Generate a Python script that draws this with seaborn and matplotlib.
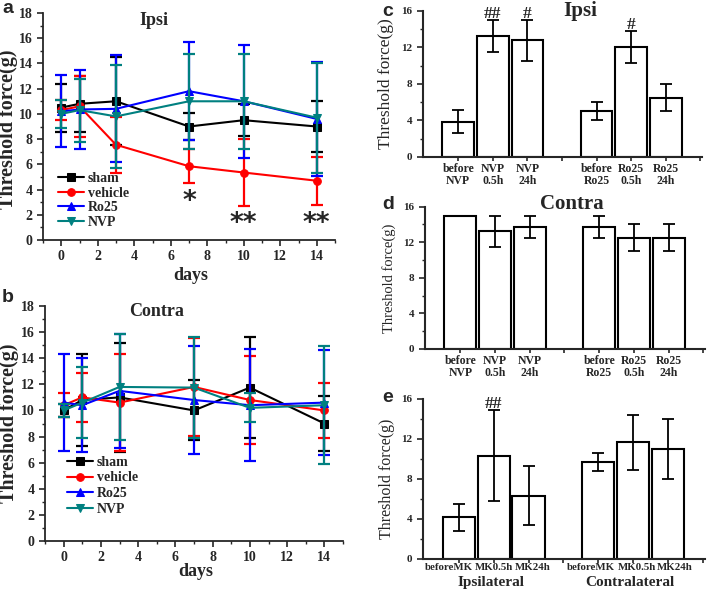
import numpy as np
import pandas as pd
import matplotlib
matplotlib.use("Agg")
import matplotlib.pyplot as plt
from matplotlib.ticker import MultipleLocator
import seaborn as sns

# ---------------- data ----------------
days = [0, 1, 3, 7, 10, 14]
groups = ["sham", "vehicle", "Ro25", "NVP"]

ipsi_sham = [10.5, 10.8, 11.0, 9.0, 9.5, 9.0]
ipsi_sham_err = [1.9, 2.2, 3.5, 1.1, 1.25, 2.05]
ipsi_vehicle = [10.3, 10.6, 7.55, 5.85, 5.35, 4.7]
ipsi_vehicle_err = [0.8, 2.4, 2.2, 1.35, 2.65, 1.9]
ipsi_ro25 = [10.2, 10.35, 10.4, 11.8, 11.0, 9.6]
ipsi_ro25_err = [2.85, 3.15, 4.25, 3.9, 4.5, 4.5]
ipsi_nvp = [10.0, 10.3, 9.8, 11.0, 11.0, 9.7]
ipsi_nvp_err = [1.1, 2.5, 4.1, 3.75, 3.75, 4.35]

contra_sham = [10.0, 10.8, 11.0, 10.0, 11.75, 9.0]
contra_sham_err = [0.5, 3.5, 4.2, 2.3, 3.85, 2.1]
contra_vehicle = [10.4, 11.0, 10.6, 11.8, 10.8, 10.0]
contra_vehicle_err = [0.9, 1.9, 3.7, 3.75, 3.35, 2.1]
contra_ro25 = [10.6, 10.4, 11.5, 10.8, 10.4, 10.6]
contra_ro25_err = [3.7, 3.6, 4.35, 4.1, 4.3, 4.0]
contra_nvp = [10.0, 10.6, 11.8, 11.75, 10.2, 10.4]
contra_nvp_err = [0.5, 2.7, 4.05, 3.85, 1.1, 4.5]

sig_days = [7, 10, 14]
sig_marks = ["*", "**", "**"]
sig_y = [3.0, 1.3, 1.3]

bar_labels_cd = ["before\nNVP", "NVP\n0.5h", "NVP\n24h", "before\nRo25", "Ro25\n0.5h", "Ro25\n24h"]
c_vals = [3.85, 13.25, 12.75, 5.0, 12.0, 6.5]
c_err = [1.25, 1.75, 2.25, 1.0, 1.75, 1.5]
c_marks = ["", "##", "#", "", "#", ""]

d_vals = [15.0, 13.25, 13.75, 13.75, 12.5, 12.5]
d_err = [0.0, 1.75, 1.25, 1.25, 1.5, 1.5]

bar_labels_e = ["beforeMK", "MK0.5h", "MK24h", "beforeMK", "MK0.5h", "MK24h"]
e_vals = [4.2, 10.35, 6.35, 9.7, 11.7, 11.0]
e_err = [1.35, 4.55, 2.95, 0.9, 2.75, 3.0]
e_marks = ["", "##", "", "", "", ""]
e_groups = ["Ipsilateral", "Contralateral"]

# ---------------- style ----------------
sns.set_style("ticks")
plt.rcParams["font.family"] = ["Liberation Serif", "DejaVu Serif"]
plt.rcParams["font.weight"] = "bold"
plt.rcParams["axes.linewidth"] = 1.3

colors = {"sham": "black", "vehicle": "#ff0000", "Ro25": "#0000ff", "NVP": "#008080"}
markers = {"sham": "s", "vehicle": "o", "Ro25": "^", "NVP": "v"}

fig = plt.figure(figsize=(7.08, 5.90), dpi=100)
W, H = 708, 590
POS = [0, 1, 2, 4, 5, 6]


def axes_px(left, top, right, bottom):
    return fig.add_axes([left / W, 1 - bottom / H, (right - left) / W, (bottom - top) / H])


def style_axes(ax, lw=1.3):
    sns.despine(ax=ax)
    ax.spines["left"].set_linewidth(lw)
    ax.spines["bottom"].set_linewidth(lw)
    ax.tick_params(which="major", direction="out", length=4, width=1.2)
    ax.tick_params(which="minor", direction="out", length=2.2, width=1.0)


def line_panel(ax, series, title, title_pos, leg_anchor, spacing):
    for name in groups:
        vals, err = series[name]
        c = colors[name]
        ax.errorbar(days, vals, yerr=err, fmt="none", ecolor=c, elinewidth=1.6,
                    capsize=4, capthick=1.6)
        sns.lineplot(x=days, y=vals, color=c, marker=markers[name], markersize=5.5,
                     markeredgecolor=c, linewidth=1.5, label=name, ax=ax, errorbar=None)
    ax.set_xlim(-1, 15)
    ax.set_ylim(0, 18)
    ax.xaxis.set_major_locator(MultipleLocator(2))
    ax.xaxis.set_minor_locator(MultipleLocator(1))
    ax.yaxis.set_major_locator(MultipleLocator(2))
    ax.yaxis.set_minor_locator(MultipleLocator(1))
    style_axes(ax)
    for lab in ax.get_xticklabels() + ax.get_yticklabels():
        lab.set_fontsize(10)
        lab.set_fontweight("bold")
    ax.set_xlabel("days", fontsize=13, fontweight="bold")
    ax.set_ylabel("Threshold force(g)", fontsize=14.5, fontweight="bold")
    ax.text(title_pos[0], title_pos[1], title, transform=ax.transAxes, ha="center",
            va="center", fontsize=13, fontweight="bold")
    ax.legend(loc="center left", bbox_to_anchor=leg_anchor, frameon=False,
              borderaxespad=0, borderpad=0, handlelength=1.9, handletextpad=0.25,
              labelspacing=spacing, prop={"size": 10, "weight": "bold"})


def bar_panel(ax, labels, vals, err, marks=None, title=None, title_pos=None,
              ylabel_size=12, xlab_size=8.5):
    df = pd.DataFrame({"pos": POS, "val": vals})
    sns.barplot(data=df, x="pos", y="val", native_scale=True, color="white",
                saturation=1, edgecolor="black", linewidth=1.5, width=0.92,
                errorbar=None, ax=ax)
    p = np.array(POS)
    v = np.array(vals)
    e = np.array(err)
    m = e > 0
    ax.errorbar(p[m], v[m], yerr=e[m], fmt="none", ecolor="black", elinewidth=1.3,
                capsize=4.5, capthick=1.3)
    if marks is not None:
        for x, y, er, t in zip(POS, vals, err, marks):
            if t:
                ax.text(x, y + er + 0.2, t, ha="center", va="baseline", fontsize=12.5,
                        fontweight="bold")
    ax.set_xlim(-1.02, 7.05)
    ax.set_ylim(0, 16)
    ax.yaxis.set_major_locator(MultipleLocator(4))
    ax.yaxis.set_minor_locator(MultipleLocator(2))
    ax.set_xticks(range(0, 8))
    full = []
    j = 0
    for k in range(8):
        if labels is not None and k in POS:
            full.append(labels[j])
            j += 1
        else:
            full.append("")
    ax.set_xticklabels(full, fontsize=xlab_size, fontweight="bold", linespacing=1.1)
    for lab in ax.get_yticklabels():
        lab.set_fontsize(8)
        lab.set_fontweight("bold")
    style_axes(ax, lw=1.5)
    ax.tick_params(axis="x", which="major", length=3, pad=1.0)
    ax.set_xlabel("")
    ax.set_ylabel("Threshold force(g)", fontsize=ylabel_size, fontweight="normal")
    if title:
        ax.text(title_pos[0], title_pos[1], title, transform=ax.transAxes, ha="center",
                va="center", fontsize=15, fontweight="bold")


# ---------------- panel a ----------------
ax_a = axes_px(43, 13, 335, 240)
line_panel(ax_a, {"sham": (ipsi_sham, ipsi_sham_err), "vehicle": (ipsi_vehicle, ipsi_vehicle_err),
                  "Ro25": (ipsi_ro25, ipsi_ro25_err), "NVP": (ipsi_nvp, ipsi_nvp_err)},
           "Ipsi", (0.38, 0.965), (0.051, 0.174), 0.12)
for d, t, y in zip(sig_days, sig_marks, sig_y):
    ax_a.text(d, y, t, ha="center", va="center", fontsize=19, fontweight="bold",
              family="DejaVu Sans")
ax_a.yaxis.set_label_coords(-0.084, 0.49)
ax_a.xaxis.set_label_coords(0.505, -0.12)

# ---------------- panel b ----------------
ax_b = axes_px(45, 306, 343, 541)
line_panel(ax_b, {"sham": (contra_sham, contra_sham_err), "vehicle": (contra_vehicle, contra_vehicle_err),
                  "Ro25": (contra_ro25, contra_ro25_err), "NVP": (contra_nvp, contra_nvp_err)},
           "Contra", (0.376, 0.975), (0.074, 0.235), 0.2)
ax_b.yaxis.set_label_coords(-0.088, 0.5)
ax_b.xaxis.set_label_coords(0.505, -0.095)

# ---------------- panel c ----------------
ax_c = axes_px(423, 10.7, 702, 157)
bar_panel(ax_c, bar_labels_cd, c_vals, c_err, c_marks, "Ipsi", (0.563, 1.0), ylabel_size=12.5)
ax_c.yaxis.set_label_coords(-0.105, 0.5)

# ---------------- panel d ----------------
ax_d = axes_px(425, 206.7, 705, 349)
bar_panel(ax_d, bar_labels_cd, d_vals, d_err, None, "Contra", (0.525, 1.02), ylabel_size=10.5)
ax_d.yaxis.set_label_coords(-0.105, 0.5)

# ---------------- panel e ----------------
ax_e = axes_px(423, 399, 705, 559)
bar_panel(ax_e, None, e_vals, e_err, e_marks, None, None, ylabel_size=11.5)
ax_e.yaxis.set_label_coords(-0.1, 0.5)
# tick labels in e sit slightly off-centre (they touch each other in the original)
e_label_shift = [-0.27, 0.01, 0.11, -0.21, 0.09, 0.19]
xtr = ax_e.get_xaxis_transform()
for x, s, t in zip(POS, e_label_shift, bar_labels_e):
    ax_e.text(x + s, -0.056, t, transform=xtr, ha="center", va="center",
              fontsize=7.8, fontweight="bold")
for x, g in zip([0.94, 4.91], e_groups):
    ax_e.text(x, -0.145, g, transform=xtr, ha="center", va="center",
              fontsize=11, fontweight="bold")

# ---------------- panel letters ----------------
for letter, (px, py) in zip("abcde", [(2, 0), (2, 289), (382, 3), (382, 196), (382, 389)]):
    fig.text(px / W, 1 - py / H, letter, ha="left", va="top", fontsize=14,
             fontweight="bold", family="Liberation Sans")

fig.savefig("out.png", dpi=100)
